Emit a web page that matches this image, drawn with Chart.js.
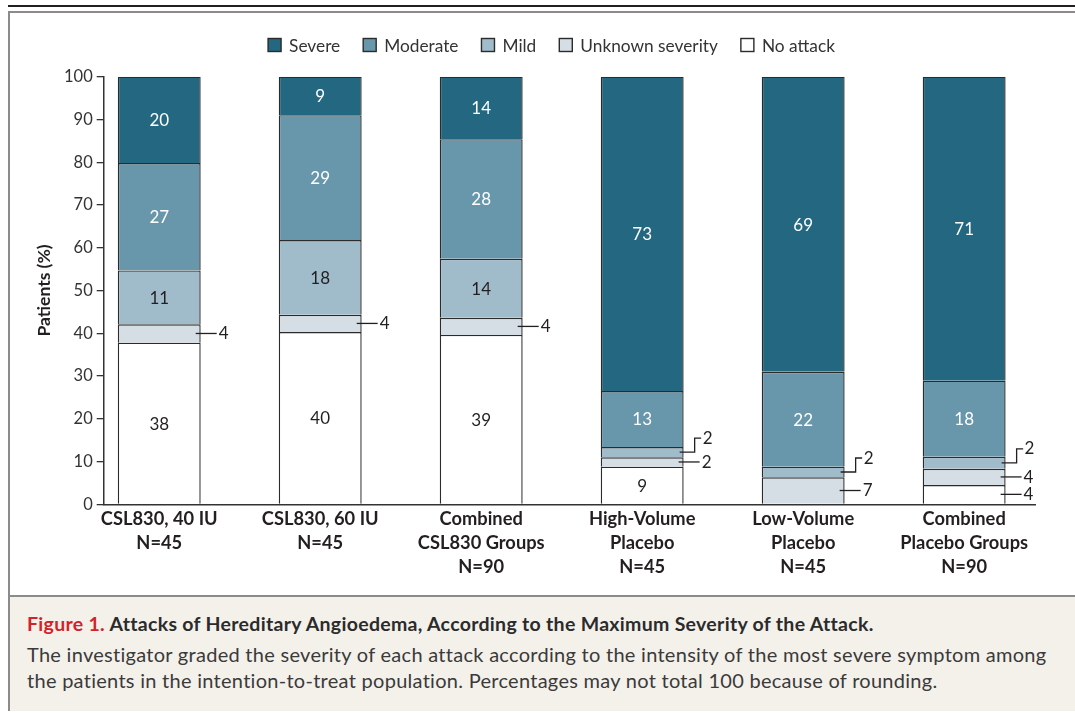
<!DOCTYPE html>
<html>
<head>
<meta charset="utf-8">
<script src="https://cdn.jsdelivr.net/npm/chart.js@4.4.0/dist/chart.umd.min.js"></script>
<style>
html,body{margin:0;padding:0;background:#fff;width:1075px;height:713px;overflow:hidden;font-family:Lato,"Open Sans",sans-serif;}
#rule{position:absolute;left:8px;top:5px;width:1067px;height:2px;background:#231f20;}
#frame{position:absolute;left:8px;top:11px;width:1080px;height:696px;border:2px solid #8b8b8b;}
#cap{position:absolute;left:10px;top:595px;width:1070px;height:114px;background:#f4f1eb;border-top:2px solid #8b8b8b;}
.ln{position:absolute;left:17px;white-space:nowrap;line-height:26px;color:#3a3a3a;font-size:20px;letter-spacing:0.28px;}
.t{font-weight:bold;color:#2b2b2b;font-size:19.5px;letter-spacing:0.3px;}
.fig{color:#d2232a;}
#c{position:absolute;left:0;top:0;}
</style>
</head>
<body>
<div id="rule"></div>
<div id="frame"></div>
<div id="cap">
  <div class="ln t" style="top:14px"><span class="fig">Figure 1.</span> Attacks of Hereditary Angioedema, According to the Maximum Severity of the Attack.</div>
  <div class="ln" style="top:44px">The investigator graded the severity of each attack according to the intensity of the most severe symptom among</div>
  <div class="ln" style="top:70px">the patients in the intention-to-treat population. Percentages may not total 100 because of rounding.</div>
</div>
<canvas id="c" width="1075" height="595"></canvas>
<script>
// Categories (x-axis tick labels, multi-line)
const categories = [
  ["CSL830, 40 IU", "N=45"],
  ["CSL830, 60 IU", "N=45"],
  ["Combined", "CSL830 Groups", "N=90"],
  ["High-Volume", "Placebo", "N=45"],
  ["Low-Volume", "Placebo", "N=45"],
  ["Combined", "Placebo Groups", "N=90"]
];
const seriesNames = ["No attack", "Unknown severity", "Mild", "Moderate", "Severe"];

// Segment heights as drawn (percent of patients)
const noAttack = [37.8, 40.3, 39.6, 8.8, 0, 4.5];
const unknownSev = [4.3, 4.0, 4.0, 2.2, 6.3, 3.8];
const mild = [12.6, 17.5, 13.8, 2.4, 2.5, 2.8];
const moderate = [25.1, 29.2, 28.0, 13.1, 22.2, 17.8];
const severe = [20.2, 9.0, 14.6, 73.5, 69.0, 71.1];

// Printed (rounded) percentages
const noAttackLbl = [38, 40, 39, 9, null, 4];
const unknownLbl = [4, 4, 4, 2, 7, 4];
const mildLbl = [11, 18, 14, 2, 2, 2];
const moderateLbl = [27, 29, 28, 13, 22, 18];
const severeLbl = [20, 9, 14, 73, 69, 71];

const yTicks = [0, 10, 20, 30, 40, 50, 60, 70, 80, 90, 100];

const seriesValues = [noAttack, unknownSev, mild, moderate, severe];
const seriesLabels = [noAttackLbl, unknownLbl, mildLbl, moderateLbl, severeLbl];
const fills = ["#ffffff", "#d6dee5", "#a0bccb", "#6896aa", "#236880"];
const textColors = ["#231f20", "#231f20", "#231f20", "#ffffff", "#ffffff"];
const FONT = 'Lato, "Open Sans", sans-serif';
const EDGE = "#2b2b2b";

const datasets = seriesValues.map((vals, si) => ({
  label: seriesNames[si],
  data: vals.map((v, i) => ({x: i, y: v})),
  backgroundColor: fills[si],
  borderColor: EDGE,
  borderWidth: {top: 1.4, left: 1.4, right: 1.4, bottom: 0},
  borderSkipped: false,
  categoryPercentage: 1,
  barPercentage: 0.515,
  stack: "s"
}));

const labelPlugin = {
  id: "segLabels",
  afterDatasetsDraw(chart) {
    const ctx = chart.ctx;
    ctx.save();
    ctx.font = "17px " + FONT;
    ctx.textBaseline = "middle";
    chart.data.datasets.forEach((ds, si) => {
      const meta = chart.getDatasetMeta(si);
      meta.data.forEach((el, i) => {
        const lbl = seriesLabels[si][i];
        if (lbl === null || lbl === undefined) return;
        const v = seriesValues[si][i];
        const cy = (el.y + el.base) / 2;
        const right = el.x + el.width / 2;
        if (v >= 7) {
          ctx.fillStyle = textColors[si];
          ctx.textAlign = "center";
          ctx.fillText(String(lbl), el.x, cy + 1);
        } else {
          ctx.strokeStyle = "#231f20";
          ctx.lineWidth = 1.3;
          ctx.fillStyle = "#231f20";
          ctx.textAlign = "left";
          ctx.beginPath();
          if (si === 2) {
            ctx.moveTo(right - 4, cy);
            ctx.lineTo(right + 11, cy);
            ctx.lineTo(right + 11, cy - 14);
            ctx.lineTo(right + 17.5, cy - 14);
            ctx.stroke();
            ctx.fillText(String(lbl), right + 19, cy - 14);
          } else {
            ctx.moveTo(right - 5, cy);
            ctx.lineTo(right + 16, cy);
            ctx.stroke();
            ctx.fillText(String(lbl), right + 18, cy + 0.5);
          }
        }
      });
    });
    ctx.restore();
  }
};

const legendPlugin = {
  id: "topLegend",
  afterDraw(chart) {
    const ctx = chart.ctx;
    ctx.save();
    ctx.font = "17.3px " + FONT;
    ctx.textBaseline = "middle";
    const box = 13, gapBT = 8, gapItem = 23, cy = 45;
    const order = [4, 3, 2, 1, 0];
    let total = 0;
    order.forEach((si, k) => {
      total += box + gapBT + ctx.measureText(seriesNames[si]).width + (k < order.length - 1 ? gapItem : 0);
    });
    let x = 551.5 - total / 2;
    order.forEach(si => {
      ctx.fillStyle = fills[si];
      ctx.fillRect(x, cy - box / 2, box, box);
      ctx.strokeStyle = EDGE;
      ctx.lineWidth = 1.4;
      ctx.strokeRect(x, cy - box / 2, box, box);
      ctx.fillStyle = "#333";
      ctx.textAlign = "left";
      ctx.fillText(seriesNames[si], x + box + gapBT, cy + 1);
      x += box + gapBT + ctx.measureText(seriesNames[si]).width + gapItem;
    });
    ctx.restore();
  }
};

new Chart(document.getElementById("c"), {
  type: "bar",
  data: {datasets},
  options: {
    responsive: false,
    animation: false,
    layout: {padding: {left: 30, right: 40, top: 76.7, bottom: 10.7}},
    plugins: {legend: {display: false}, tooltip: {enabled: false}},
    scales: {
      x: {
        type: "linear",
        stacked: true,
        min: -0.345,
        max: 5.44,
        offset: false,
        afterBuildTicks: s => { s.ticks = categories.map((_, i) => ({value: i})); },
        afterFit: s => { s.height = 80; },
        grid: {display: false},
        border: {display: true, color: "#333", width: 1.5},
        ticks: {
          autoSkip: false,
          maxRotation: 0,
          padding: -5,
          color: "#231f20",
          font: {family: FONT, size: 18.3, weight: "bold", lineHeight: 1.31},
          callback: v => categories[v]
        }
      },
      y: {
        stacked: true,
        min: 0,
        max: 100,
        afterBuildTicks: s => { s.ticks = yTicks.map(v => ({value: v})); },
        afterFit: s => { s.width = 73.7; },
        grid: {display: true, drawOnChartArea: false, drawTicks: true, tickLength: 7, color: "#333", lineWidth: 1.3},
        border: {display: true, color: "#333", width: 1.5},
        ticks: {padding: 4, color: "#333", font: {family: FONT, size: 16.5}},
        title: {display: true, text: "Patients (%)", color: "#231f20", padding: {top: 4, bottom: 0}, font: {family: FONT, size: 17.5, weight: "bold"}}
      }
    }
  },
  plugins: [labelPlugin, legendPlugin]
});
</script>
</body>
</html>
